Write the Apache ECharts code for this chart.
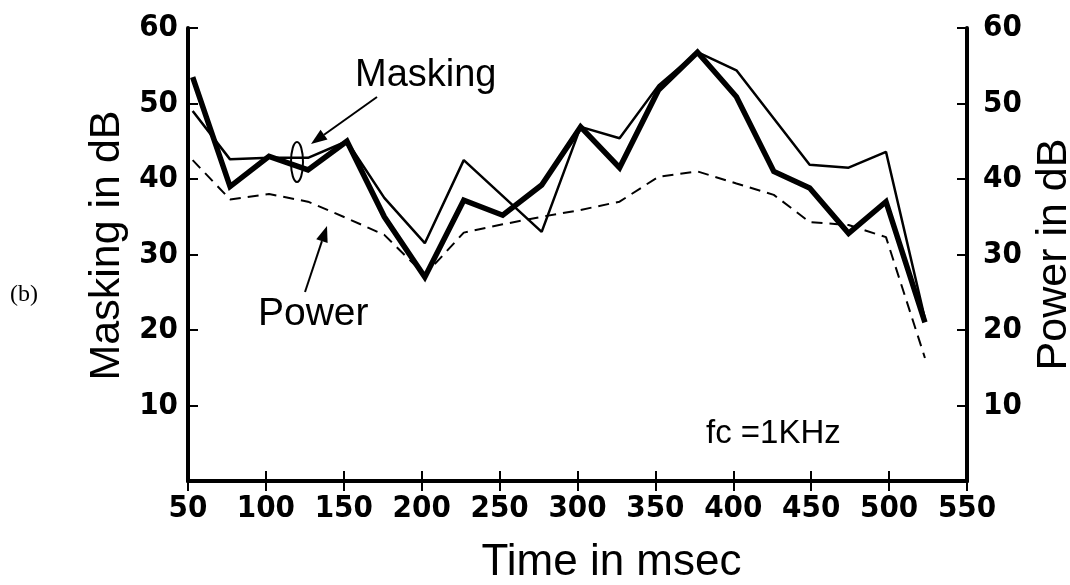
<!DOCTYPE html>
<html><head><meta charset="utf-8">
<script src="https://cdn.jsdelivr.net/npm/echarts@6/dist/echarts.min.js"></script>
<style>html,body{margin:0;padding:0;background:#fff}#c{width:1070px;height:585px}</style>
</head><body><div id="c"></div>
<script>
// Time (msec) of each measured point
const times = [53, 77, 102, 127, 152, 176, 202, 227, 252, 277, 302, 327, 352, 377, 402, 426, 449, 474, 498, 523];
// Masking, thick curve (dB)
const maskingThick = [53.5, 39, 43, 41.2, 45, 35, 27, 37.2, 35.2, 39.2, 46.9, 41.5, 51.8, 56.8, 50.9, 41, 38.8, 32.8, 37, 21];
// Masking, thin curve (dB); null where the thin curve has no vertex
const maskingThin = [49, 42.6, 42.8, 42.8, 45, 37.5, 31.5, 42.5, null, 33, 46.9, 45.4, 52.4, 56.8, 54.4, null, 41.9, 41.5, 43.6, 21.5];
// Power (dB), dashed curve
const power = [42.5, 37.3, 38, 37, 34.8, 32.6, 27.3, 32.9, 34, 35, 35.9, 37, 40.3, 41, 39.4, 37.9, 34.3, 33.9, 32.3, 16.3];
const yTicks = [10, 20, 30, 40, 50, 60];
const xTicks = [50, 100, 150, 200, 250, 300, 350, 400, 450, 500, 550];

const pairs = arr => times.map((t, i) => [t, arr[i]]);
const tickFont = {fontFamily: '"Liberation Sans Narrow","DejaVu Sans Condensed","Liberation Sans",sans-serif', fontWeight: 'bold', fontSize: 31, color: '#000'};
const yLabel = v => yTicks.indexOf(v) >= 0 ? String(v) : '';
const xLabel = v => xTicks.indexOf(v) >= 0 ? String(v) : '';
const axisLine = {show: true, lineStyle: {color: '#000', width: 4}};
const chart = echarts.init(document.getElementById('c'), null, {renderer: 'canvas'});
const titleFont = '"Liberation Sans",Arial,sans-serif';

function arrow(x1, y1, x2, y2) {
  const a = Math.atan2(y2 - y1, x2 - x1), L = 16, W = 6;
  const bx = x2 - L * Math.cos(a), by = y2 - L * Math.sin(a);
  return [
    {type: 'line', shape: {x1: x1, y1: y1, x2: bx, y2: by}, style: {stroke: '#000', lineWidth: 2}},
    {type: 'polygon', shape: {points: [[x2, y2], [bx + W * Math.sin(a), by - W * Math.cos(a)], [bx - W * Math.sin(a), by + W * Math.cos(a)]]}, style: {fill: '#000'}}
  ];
}

chart.setOption({
  animation: false,
  backgroundColor: '#fff',
  grid: {left: 188, right: 103, top: 28, bottom: 104, show: false, containLabel: false, outerBoundsMode: 'none'},
  xAxis: [{
    type: 'value', min: 50, max: 550, interval: 50, position: 'bottom',
    axisLine: axisLine,
    axisTick: {show: true, inside: true, length: 10, lineStyle: {color: '#000', width: 2}},
    axisLabel: Object.assign({margin: 12, formatter: xLabel}, tickFont),
    splitLine: {show: false},
    name: 'Time in msec', nameLocation: 'middle', nameGap: 60,
    nameTextStyle: {fontFamily: titleFont, fontSize: 44, color: '#000', padding: [0, 0, 0, 68]}
  }, {
    type: 'value', min: 50, max: 550, interval: 50, position: 'top',
    axisLine: axisLine,
    axisTick: {show: true, inside: true, length: 10, lineStyle: {color: '#000', width: 2}},
    axisLabel: {show: false}, splitLine: {show: false}
  }],
  yAxis: [{
    type: 'value', min: 0, max: 60, interval: 10, position: 'left',
    axisLine: axisLine,
    axisTick: {show: true, inside: true, length: 10, lineStyle: {color: '#000', width: 2}},
    axisLabel: Object.assign({margin: 10, formatter: yLabel}, tickFont),
    splitLine: {show: false},
    name: 'Masking in dB', nameLocation: 'middle', nameGap: 57, nameRotate: 90,
    nameTextStyle: {fontFamily: titleFont, fontSize: 43, color: '#000', padding: [0, 0, 0, 18]}
  }, {
    type: 'value', min: 0, max: 60, interval: 10, position: 'right',
    axisLine: axisLine,
    axisTick: {show: true, inside: true, length: 10, lineStyle: {color: '#000', width: 2}},
    axisLabel: Object.assign({margin: 16, formatter: yLabel}, tickFont),
    splitLine: {show: false},
    name: 'Power in dB', nameLocation: 'middle', nameGap: 55, nameRotate: 90,
    nameTextStyle: {fontFamily: titleFont, fontSize: 43, color: '#000'}
  }],
  series: [
    {type: 'line', name: 'Power', yAxisIndex: 1, data: pairs(power), showSymbol: false,
     lineStyle: {color: '#000', width: 2, type: [11, 7]}},
    {type: 'line', name: 'Masking thin', data: pairs(maskingThin), showSymbol: false, connectNulls: true,
     lineStyle: {color: '#000', width: 2.5}},
    {type: 'line', name: 'Masking thick', data: pairs(maskingThick), showSymbol: false,
     lineStyle: {color: '#000', width: 5.5, join: 'miter'}}
  ],
  graphic: [
    {type: 'text', left: 355, top: 57, style: {text: 'Masking', font: '38px "Liberation Sans",Arial,sans-serif', fill: '#000'}},
    {type: 'text', left: 258, top: 295, style: {text: 'Power', font: '39px "Liberation Sans",Arial,sans-serif', fill: '#000'}},
    {type: 'text', left: 706, top: 417, style: {text: 'fc =1KHz', font: '33px "Liberation Sans",Arial,sans-serif', fill: '#000'}},
    {type: 'text', left: 10, top: 283, style: {text: '(b)', font: '24px "Liberation Serif","Times New Roman",serif', fill: '#000'}},
    {type: 'ellipse', shape: {cx: 297, cy: 162, rx: 6, ry: 20}, style: {fill: 'none', stroke: '#000', lineWidth: 2}}
  ].concat(arrow(377, 97, 311, 144)).concat(arrow(305, 292, 327, 226))
});
</script></body></html>
